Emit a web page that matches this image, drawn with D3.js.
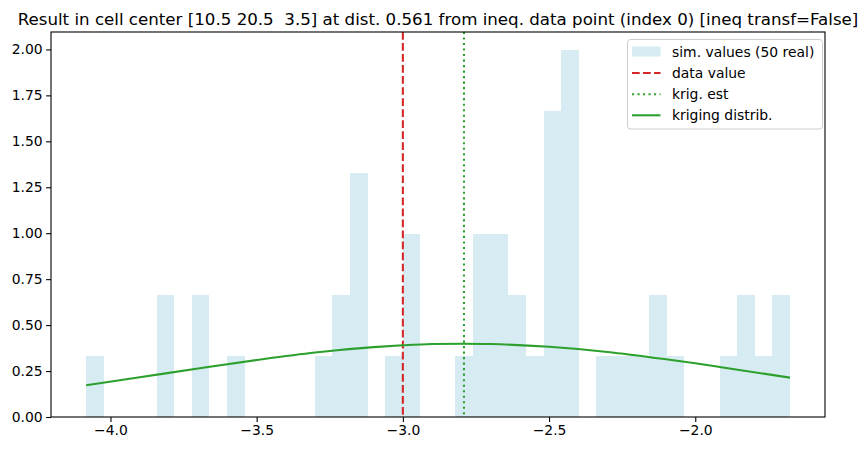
<!DOCTYPE html>
<html>
<head>
<meta charset="utf-8">
<script src="https://cdn.jsdelivr.net/npm/d3@7"></script>
<style>
html,body{margin:0;padding:0;background:#fff;}
svg{display:block;}
text{font-family:"DejaVu Sans",sans-serif;}
</style>
</head>
<body>
<svg id="chart" width="866" height="451"></svg>
<script>
// ---- data ----
const binEdges = [-4.083,-4.023,-3.963,-3.902,-3.842,-3.782,-3.722,-3.662,-3.602,-3.541,
  -3.481,-3.421,-3.361,-3.301,-3.241,-3.181,-3.120,-3.060,-3.000,-2.940,
  -2.880,-2.820,-2.760,-2.699,-2.639,-2.579,-2.519,-2.459,-2.399,-2.338,
  -2.278,-2.218,-2.158,-2.098,-2.037,-1.977,-1.917,-1.857,-1.797,-1.737,-1.676];
const density = [0.333,0,0,0,0.665,0,0.665,0,0.333,0,
  0,0,0,0.333,0.665,1.330,0,0.333,0.998,0,
  0,0.333,0.998,0.998,0.665,0.333,1.663,1.995,0,0.333,
  0.333,0.333,0.665,0.333,0,0,0.333,0.665,0.333,0.665];
const curveX = [-4.083,-3.9,-3.7,-3.5,-3.3,-3.1,-3.0,-2.9,-2.791,-2.7,-2.5,-2.3,-2.1,-2.0,-1.9,-1.676];
const curveY = [0.173,0.216,0.264,0.310,0.351,0.380,0.390,0.397,0.399,0.397,0.382,0.354,0.314,0.292,0.268,0.214];
const dataValue = -3.0;
const krigEst = -2.791;
const xTicks = [-4.0,-3.5,-3.0,-2.5,-2.0];
const yTicks = [0,0.25,0.5,0.75,1.0,1.25,1.5,1.75,2.0];
const titleText = "Result in cell center [10.5 20.5  3.5] at dist. 0.561 from ineq. data point (index 0) [ineq transf=False]";
const legendLabels = ["sim. values (50 real)","data value","krig. est","kriging distrib."];

// ---- layout ----
const L=51, R=825, T=32, B=417;
const LW = 2.08;
const DASH = "7.7,3.33", DOT = "2.08,3.43";
const svg = d3.select("#chart");
const x = d3.scaleLinear().domain([-4.2033,-1.5563]).range([L,R]);
const y = d3.scaleLinear().domain([0,2.0948]).range([B,T]);

const bins = density.map((d,i)=>({x0:binEdges[i],x1:binEdges[i+1],v:d}));

// bars
svg.append("g").selectAll("rect").data(bins.filter(b=>b.v>0)).join("rect")
  .attr("x",d=>x(d.x0)).attr("width",d=>x(d.x1)-x(d.x0))
  .attr("y",d=>y(d.v)).attr("height",d=>y(0)-y(d.v))
  .attr("fill","#add8e6").attr("fill-opacity",0.5)
  .attr("shape-rendering","crispEdges");

// vertical lines
svg.append("line").attr("x1",x(dataValue)).attr("x2",x(dataValue)).attr("y1",T).attr("y2",B)
  .attr("stroke","#d62728").attr("stroke-width",LW).attr("stroke-dasharray",DASH);
svg.append("line").attr("x1",x(krigEst)).attr("x2",x(krigEst)).attr("y1",T).attr("y2",B)
  .attr("stroke","#2ca02c").attr("stroke-width",LW).attr("stroke-dasharray",DOT);

// curve
const pts = curveX.map((v,i)=>[v,curveY[i]]);
svg.append("path").datum(pts)
  .attr("d",d3.line().x(d=>x(d[0])).y(d=>y(d[1])).curve(d3.curveMonotoneX))
  .attr("fill","none").attr("stroke","#2ca02c").attr("stroke-width",LW);

// axes
const fmtX = d=>d3.format(".1f")(d).replace("-","\u2212");
const xa = svg.append("g").attr("transform",`translate(0,${B})`)
  .call(d3.axisBottom(x).tickValues(xTicks).tickFormat(fmtX).tickSize(4.9).tickPadding(3.5));
const ya = svg.append("g").attr("transform",`translate(${L},0)`)
  .call(d3.axisLeft(y).tickValues(yTicks).tickFormat(d3.format(".2f")).tickSize(4.9).tickPadding(3.5));
[xa,ya].forEach(g=>{
  g.select(".domain").remove();
  g.selectAll(".tick line").attr("stroke","#000").attr("stroke-width",1.1);
  g.selectAll(".tick text").attr("font-size","13.9px").attr("fill","#000").attr("font-family","DejaVu Sans");
});

// frame
svg.append("rect").attr("x",L).attr("y",T).attr("width",R-L).attr("height",B-T)
  .attr("fill","none").attr("stroke","#000").attr("stroke-width",1.1);

// title
svg.append("text").attr("x",(L+R)/2).attr("y",25).attr("text-anchor","middle")
  .attr("xml:space","preserve").style("white-space","pre")
  .attr("font-size","16.67px").attr("fill","#000").text(titleText);

// legend
const lg = svg.append("g");
lg.append("rect").attr("x",627.5).attr("y",39.5).attr("width",195).attr("height",89.5)
  .attr("rx",3).attr("fill","#fff").attr("fill-opacity",0.8).attr("stroke","#cccccc").attr("stroke-width",1);
const rowY = [52,73,94.2,115.3];
lg.append("rect").attr("x",632).attr("y",rowY[0]-5.5).attr("width",28.5).attr("height",10)
  .attr("fill","#add8e6").attr("fill-opacity",0.5);
lg.append("line").attr("x1",632).attr("x2",660.5).attr("y1",rowY[1]).attr("y2",rowY[1])
  .attr("stroke","#d62728").attr("stroke-width",LW).attr("stroke-dasharray",DASH);
lg.append("line").attr("x1",632).attr("x2",660.5).attr("y1",rowY[2]).attr("y2",rowY[2])
  .attr("stroke","#2ca02c").attr("stroke-width",LW).attr("stroke-dasharray",DOT);
lg.append("line").attr("x1",632).attr("x2",660.5).attr("y1",rowY[3]).attr("y2",rowY[3])
  .attr("stroke","#2ca02c").attr("stroke-width",LW);
legendLabels.forEach((t,i)=>{
  lg.append("text").attr("x",672).attr("y",rowY[i]+5).attr("font-size","13.9px").attr("fill","#000").text(t);
});
</script>
</body>
</html>
